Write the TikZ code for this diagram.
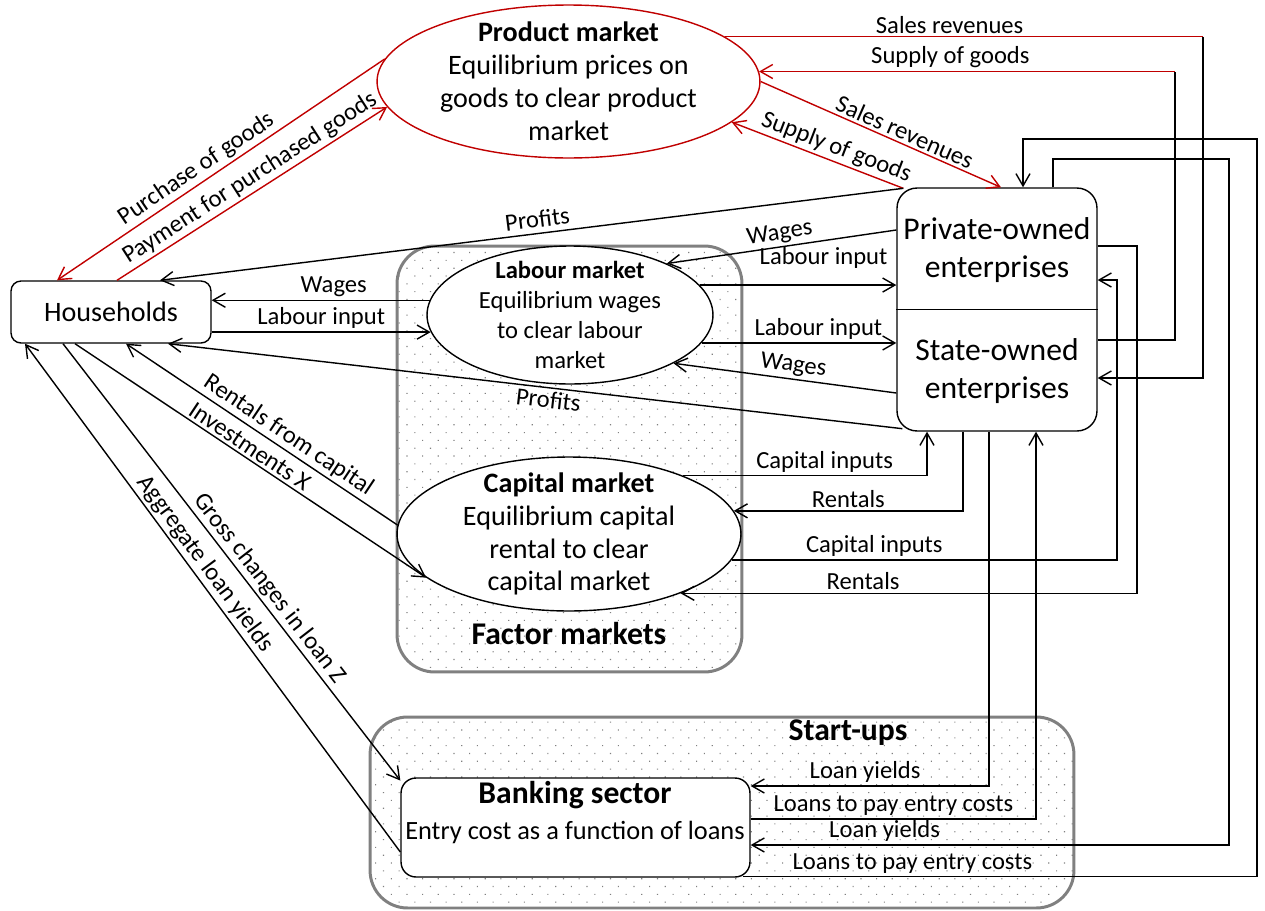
\documentclass[tikz,border=0pt]{standalone}
\usepackage{fontspec}
\setmainfont{Carlito}
\usetikzlibrary{arrows.meta,patterns.meta,shapes.geometric,calc}

\definecolor{darkred}{RGB}{192,0,0}
\definecolor{framegray}{RGB}{128,128,128}

\begin{document}
\begin{tikzpicture}[x=0.02cm,y=-0.02cm,
		flow/.style={line width=0.8pt,-{Straight Barb[length=7pt,width=8pt]}},
		plain/.style={line width=0.8pt},
		redflow/.style={flow,draw=darkred},
		redline/.style={plain,draw=darkred},
		lbl/.style={font=\fontsize{14}{17}\selectfont,inner sep=1.5pt},
		group/.style={draw=framegray,line width=1.7pt,rounded corners=0.75cm,inner sep=0pt,pattern={Dots[distance=6.3pt,angle=45,radius=0.45pt]},pattern color=gray},
		market/.style={draw,ellipse,fill=white,line width=0.8pt,inner sep=0pt},
		agent/.style={draw,fill=white,line width=0.8pt,inner sep=0pt},
		midtext/.style={font=\fontsize{16}{18.7}\selectfont,align=center,inner sep=0pt},
		smalltext/.style={font=\fontsize{14}{17}\selectfont,align=center,inner sep=0pt},
		bigtext/.style={font=\fontsize{18}{22}\selectfont,align=center,inner sep=0pt}]

		\useasboundingbox (0,0) rectangle (1265,910);

		\node[group,minimum width=6.9cm,minimum height=8.52cm] (fm) at (569.5,459) {};
		\node[group,minimum width=14.08cm,minimum height=3.82cm] (su) at (722,812.5) {};

		\node[market,draw=darkred,minimum width=7.66cm,minimum height=3.06cm] (pm) at (568.5,81.5) {};
		\node[midtext] (pmtext) at (pm) {\textbf{Product market}\\Equilibrium prices on\\goods to clear product\\market};

		\node[market,minimum width=5.72cm,minimum height=2.76cm] (lab) at (570,315) {};
		\node[smalltext] (labtext) at (lab) {\textbf{Labour market}\\Equilibrium wages\\to clear labour\\market};

		\node[market,minimum width=6.88cm,minimum height=3.08cm] (cap) at (569,534) {};
		\node[midtext] (captext) at (cap) {\textbf{Capital market}\\Equilibrium capital\\rental to clear\\capital market};

		\node[agent,rounded corners=0.2cm,minimum width=4cm,minimum height=1.24cm,font=\fontsize{16}{18.7}\selectfont] (hh) at (111,312) {Households};

		\node[agent,rounded corners=0.4cm,minimum width=4cm,minimum height=4.86cm] (ent) at (997,309.5) {};
		\draw[plain] (ent.west) -- (ent.east);
		\node[bigtext] (priv) at (997,250) {Private-owned\\enterprises};
		\node[bigtext] (state) at (997,371) {State-owned\\enterprises};

		\node[agent,rounded corners=0.3cm,minimum width=6.98cm,minimum height=1.98cm] (bank) at (575.5,827.5) {};
		\node[bigtext,font=\fontsize{18}{22}\selectfont\bfseries] (banktitle) at (575,795) {Banking sector};
		\node[midtext,font=\fontsize{15}{18}\selectfont] (banktext) at (575,832) {Entry cost as a function of loans};

		\node[bigtext,font=\fontsize{18}{22}\selectfont\bfseries] (fmtitle) at (569,634) {Factor markets};
		\node[bigtext,font=\fontsize{18}{22}\selectfont\bfseries] (sutitle) at (848,733) {Start-ups};

		\coordinate (entcorner) at ($(ent.north west)+(7,1)$);
		\coordinate (salesturn) at (pm.16 -| 1203,0);
		\coordinate (supplyturn) at (pm.3 -| 1175,0);

		\draw[redflow] (pm.173) -- node[lbl,sloped,above,pos=0.55] (lpurchase) {Purchase of goods} (hh.north -| 57,0);
		\draw[redflow] (hh.north -| 117,0) -- node[lbl,sloped,above,pos=0.52] (lpayment) {Payment for purchased goods} (pm.188);
		\draw[redflow] (pm.east) -- node[lbl,sloped,above,pos=0.58] (lsales) {Sales revenues} (ent.north -| 1001,0);
		\draw[redflow] (entcorner) -- node[lbl,sloped,above,pos=0.42] (lsupply) {Supply of goods} (pm.-14);

		\draw[redline] (pm.16) -- node[lbl,above,pos=0.47] (lsalestop) {Sales revenues} (salesturn);
		\draw[flow] (salesturn) |- (ent.east |- 0,378);
		\draw[plain] (ent.east |- 0,340) -| (supplyturn);
		\draw[redflow] (supplyturn) -- node[lbl,above,pos=0.54] (lsupplytop) {Supply of goods} (pm.3);

		\draw[flow] (entcorner) -- node[lbl,sloped,above=0.5mm,pos=0.49] (lprofit1) {Profits} (hh.north -| 160,0);
		\draw[flow] ($(ent.south west)+(6,-3)$) -- node[lbl,sloped,below,pos=0.48] (lprofit2) {Profits} (hh.south -| 168,0);

		\draw[flow] (lab.174) -- node[lbl,above,pos=0.44] (lwage0) {Wages} (hh.east |- lab.174);
		\draw[flow] (hh.east |- lab.187) -- node[lbl,above] (llab0) {Labour input} (lab.187);
		\draw[flow] (lab.13) -- node[lbl,above=2.6mm,pos=0.63] (llab1) {Labour input} (ent.west |- lab.13);
		\draw[flow] (lab.-12) -- node[lbl,above,pos=0.6] (llab2) {Labour input} (ent.west |- lab.-12);
		\draw[flow] (ent.west |- 0,230) -- node[lbl,sloped,above,pos=0.5] (lwage1) {Wages} (lab.28);
		\draw[flow] (ent.west |- 0,393) -- node[lbl,sloped,above,pos=0.47] (lwage2) {Wages} (lab.-25);

		\draw[flow] (cap.177) -- node[lbl,sloped,above,pos=0.43] (lrentcap) {Rentals from capital} (hh.south -| 126,0);
		\draw[flow] (hh.south -| 75,0) -- node[lbl,sloped,above,pos=0.48] (linvest) {Investments X} (cap.197);
		\draw[flow] (hh.south -| 63,0) -- node[lbl,sloped,above,pos=0.58] (lgross) {Gross changes in loan Z} (bank.165);
		\draw[flow] (bank.west |- 0,852) -- node[lbl,sloped,above,pos=0.55] (laggr) {Aggregate loan yields} (hh.south -| 25,0);

		\draw[flow] (cap.27) -| node[lbl,above,pos=0.29] (lcapin1) {Capital inputs} (ent.south -| 927,0);
		\draw[flow] (ent.south -| 963,0) |- node[lbl,above,pos=0.75] (lrent1) {Rentals} (cap.8);
		\draw[flow] (cap.-9) -| node[lbl,above,pos=0.185] (lcapin2) {Capital inputs} (1117,280) -- (ent.east |- 0,280);
		\draw[flow] (ent.east |- 0,246) -- (1137,246) |- node[lbl,above,pos=0.8] (lrent2) {Rentals} (cap.-28);

		\draw[flow] (ent.south -| 989,0) |- node[lbl,above,pos=0.76] (lyield1) {Loan yields} (bank.east |- 0,786);
		\draw[flow] (bank.east |- 0,819) -| node[lbl,above,pos=0.25] (lloan1) {Loans to pay entry costs} (ent.south -| 1036,0);
		\draw[flow] (ent.north -| 1053,0) |- (1229,159) |- node[lbl,above,pos=0.86] (lyield2) {Loan yields} (bank.east |- 0,845);
		\draw[flow] ($(bank.south east)+(-8,-1)$) -| node[lbl,above,pos=0.165] (lloan2) {Loans to pay entry costs} (1257,139) -| (ent.north -| 1023,0);
\end{tikzpicture}
\end{document}
